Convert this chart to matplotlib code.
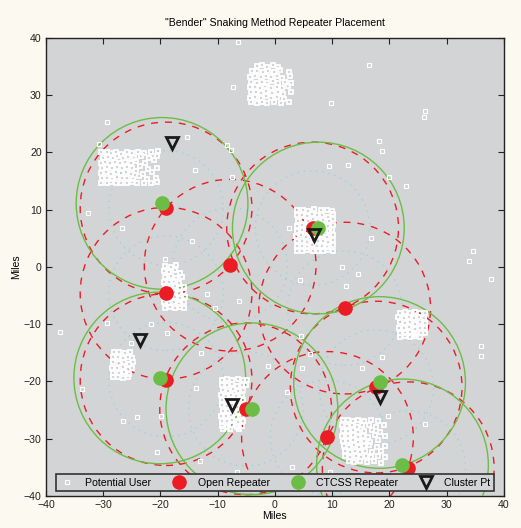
import matplotlib
matplotlib.use("Agg")
import matplotlib.pyplot as plt
from matplotlib.patches import Circle

plt.rcParams['font.family'] = ['Liberation Sans', 'DejaVu Sans']
plt.rcParams['font.size'] = 7.6

# Repeater / cluster positions (miles)
open_x = [-19.0, -7.8, -19.0, 12.2, -19.0, -5.1, 6.6, 9.2, 17.7, 23.3]
open_y = [10.3, 0.3, -4.6, -7.2, -19.7, -24.8, 6.8, -29.8, -21.0, -35.1]
ctcss_x = [-19.7, 7.6, -20.1, -4.0, 18.3, 22.3]
ctcss_y = [11.1, 6.8, -19.4, -24.8, -20.2, -34.6]
cluster_x = [-18.0, 6.8, -23.6, -7.5, 18.3]
cluster_y = [21.6, 5.6, -12.7, -24.1, -22.7]

OPEN_RADIUS = 15.0
CTCSS_RADIUS = 15.0
INNER_RADIUS = 10.0

# Potential users: dense town blocks
town_a = [(-30.3,20.0),(-29.4,20.1),(-28.6,19.9),(-27.7,20.1),(-26.9,19.8),(-25.9,20.0),(-25.0,19.9),(-23.9,20.1),(-22.8,19.9),(-21.6,20.0),(-20.4,20.2),
          (-30.1,19.1),(-29.2,19.2),(-28.3,19.0),(-27.5,19.3),(-26.6,19.1),(-25.6,19.2),(-24.6,19.0),(-23.3,19.3),(-21.9,19.0),(-20.6,19.4),
          (-30.4,18.2),(-29.6,18.3),(-28.8,18.1),(-27.9,18.3),(-27.0,18.2),(-26.1,18.4),(-25.2,18.1),(-24.2,18.5),(-22.6,18.2),(-21.1,18.6),
          (-30.2,17.3),(-29.3,17.4),(-28.5,17.2),(-27.6,17.5),(-26.7,17.3),(-25.8,17.4),(-24.9,17.2),(-23.6,17.6),(-22.1,17.1),(-20.5,17.3),
          (-30.4,16.4),(-29.5,16.5),(-28.7,16.3),(-27.8,16.6),(-26.9,16.4),(-26.0,16.5),(-25.1,16.3),(-24.3,16.7),(-23.0,16.2),(-21.4,16.5),
          (-30.2,15.5),(-29.3,15.6),(-28.4,15.4),(-27.6,15.7),(-26.7,15.5),(-25.8,15.6),(-24.8,15.4),(-23.7,15.8),(-22.4,15.3),(-20.8,15.6),
          (-30.3,14.7),(-29.4,14.6),(-28.6,14.8),(-27.7,14.6),(-26.8,14.7),(-25.9,14.6),(-24.9,14.8),(-24.0,14.6),(-22.9,14.7),(-21.7,14.6),(-20.6,14.8)]
town_b = [(-3.2,35.1),(-2.2,35.2),(-1.3,35.0),(-0.3,35.2),(0.6,34.9),
          (-4.0,34.2),(-3.1,34.3),(-2.1,34.0),(-1.2,34.3),(-0.2,34.1),(0.9,34.4),(2.4,34.0),
          (-4.3,33.2),(-3.4,33.4),(-2.5,33.1),(-1.6,33.3),(-0.6,33.2),(0.4,33.4),(1.3,33.0),(2.6,33.3),
          (-4.1,32.3),(-3.2,32.2),(-2.3,32.4),(-1.4,32.2),(-0.4,32.5),(0.6,32.1),(1.7,32.4),(2.9,32.2),
          (-4.4,31.4),(-3.5,31.5),(-2.6,31.3),(-1.7,31.6),(-0.7,31.3),(0.3,31.5),(1.2,31.2),(2.3,31.6),
          (-4.2,30.5),(-3.3,30.6),(-2.4,30.4),(-1.5,30.7),(-0.5,30.4),(0.5,30.6),(1.5,30.3),(2.8,30.5),
          (-4.3,29.6),(-3.4,29.7),(-2.5,29.5),(-1.6,29.8),(-0.6,29.5),(0.4,29.7),(1.6,29.4),
          (-4.1,28.8),(-3.2,28.7),(-2.3,28.9),(-1.3,28.6),(-0.2,28.8),(1.0,28.7),(2.4,28.8)]
town_c = [(3.9,9.9),(4.9,10.0),(5.8,9.8),(6.9,10.1),(8.0,9.9),(9.1,10.0),(10.0,9.7),
          (3.8,9.0),(4.7,9.1),(5.6,8.9),(6.5,9.2),(7.4,9.0),(8.3,9.1),(9.3,8.8),(10.2,9.2),
          (4.0,8.1),(4.9,8.2),(5.8,8.0),(6.7,8.3),(7.6,8.1),(8.5,8.2),(9.4,8.0),(10.1,8.3),
          (3.8,7.2),(4.7,7.3),(5.6,7.1),(6.5,7.4),(7.4,7.2),(8.4,7.3),(9.3,7.1),(10.2,7.4),
          (3.9,6.3),(4.8,6.4),(5.7,6.2),(6.6,6.5),(7.5,6.3),(8.4,6.4),(9.4,6.2),(10.0,6.5),
          (3.7,5.4),(4.6,5.5),(5.5,5.3),(6.4,5.6),(7.3,5.4),(8.2,5.5),(9.1,5.3),(10.1,5.6),
          (3.9,4.5),(4.8,4.6),(5.7,4.4),(6.6,4.7),(7.5,4.5),(8.4,4.6),(9.3,4.4),(10.2,4.7),
          (3.8,3.6),(4.7,3.7),(5.6,3.5),(6.5,3.8),(7.4,3.6),(8.3,3.7),(9.2,3.5),(10.1,3.8),
          (3.9,2.8),(4.8,2.7),(5.7,2.9),(6.6,2.7),(7.5,2.8),(8.4,2.7),(9.3,2.9),(10.2,2.7)]
town_d = [(-19.2,0.2),(-18.2,0.0),(-17.3,0.3),
          (-19.4,-0.7),(-18.5,-0.9),(-17.5,-0.6),(-16.6,-1.0),
          (-19.1,-1.7),(-18.1,-1.6),(-17.2,-1.9),(-16.2,-1.7),
          (-19.4,-2.6),(-18.5,-2.7),(-17.6,-2.5),(-16.7,-2.8),
          (-19.2,-3.5),(-18.3,-3.6),(-17.4,-3.4),(-16.5,-3.7),(-15.8,-3.5),
          (-19.5,-4.4),(-18.6,-4.5),(-17.7,-4.3),(-16.8,-4.6),(-15.9,-4.4),
          (-19.3,-5.3),(-18.4,-5.4),(-17.5,-5.2),(-16.6,-5.5),(-15.7,-5.3),
          (-19.4,-6.2),(-18.5,-6.3),(-17.6,-6.1),(-16.7,-6.4),(-15.8,-6.2),
          (-19.2,-7.1),(-18.3,-7.0),(-17.4,-7.2),(-16.5,-7.0),(-15.8,-7.1)]
town_e = [(21.8,-8.0),(22.7,-7.9),(23.6,-8.1),(24.5,-7.9),(25.4,-8.1),(26.2,-8.0),
          (21.6,-8.8),(22.5,-8.9),(23.4,-8.7),(24.3,-9.0),(25.2,-8.8),(26.1,-8.9),
          (21.8,-9.7),(22.7,-9.8),(23.6,-9.6),(24.5,-9.9),(25.4,-9.7),(26.3,-9.8),
          (21.7,-10.6),(22.6,-10.7),(23.5,-10.5),(24.4,-10.8),(25.3,-10.6),(26.2,-10.7),
          (21.9,-11.5),(22.8,-11.6),(23.7,-11.4),(24.6,-11.7),(25.5,-11.5),(26.3,-11.6),
          (21.8,-12.2),(22.7,-12.1),(23.6,-12.2),(24.5,-12.1),(25.4,-12.2)]
town_f = [(-28.1,-14.9),(-27.2,-14.8),(-26.2,-15.0),(-25.3,-14.9),
          (-28.3,-15.8),(-27.4,-15.7),(-26.5,-15.9),(-25.6,-15.7),(-24.9,-15.9),
          (-28.2,-16.7),(-27.3,-16.8),(-26.4,-16.6),(-25.5,-16.9),(-24.8,-16.7),
          (-28.4,-17.6),(-27.5,-17.7),(-26.6,-17.5),(-25.7,-17.8),(-24.9,-17.6),
          (-28.2,-18.5),(-27.3,-18.6),(-26.4,-18.4),(-25.5,-18.7),
          (-28.3,-19.3),(-27.4,-19.2),(-26.5,-19.4),(-25.6,-19.3)]
town_g = [(-9.2,-19.7),(-8.3,-19.6),(-7.4,-19.8),(-6.5,-19.6),(-5.6,-19.8),(-4.9,-19.7),
          (-9.3,-20.6),(-8.4,-20.7),(-7.5,-20.5),(-6.6,-20.8),(-5.7,-20.6),(-5.0,-20.7),
          (-9.1,-21.5),(-8.2,-21.6),(-7.3,-21.4),(-6.4,-21.7),(-5.5,-21.5),
          (-9.4,-22.4),(-8.5,-22.5),(-7.6,-22.3),(-6.7,-22.6),(-5.8,-22.4),
          (-9.2,-23.3),(-8.3,-23.4),(-7.4,-23.2),(-6.5,-23.5),(-5.6,-23.3),
          (-9.3,-24.2),(-8.4,-24.3),(-7.5,-24.1),(-6.6,-24.4),(-5.7,-24.2),
          (-9.1,-25.1),(-8.2,-25.2),(-7.3,-25.0),(-6.4,-25.3),(-5.5,-25.1),
          (-9.4,-26.0),(-8.5,-26.1),(-7.6,-25.9),(-6.7,-26.2),(-5.8,-26.0),
          (-9.2,-26.9),(-8.3,-27.0),(-7.4,-26.8),(-6.5,-27.1),(-5.6,-26.9),
          (-9.3,-27.8),(-8.4,-27.9),(-7.5,-27.7),(-6.6,-28.0),(-5.7,-27.8),
          (-9.0,-28.3),(-7.8,-28.4),(-6.2,-28.3)]
town_h = [(11.9,-26.8),(12.8,-26.7),(13.7,-26.9),(14.6,-26.7),(15.6,-26.9),(16.8,-26.8),(18.0,-27.0),
          (11.7,-27.7),(12.6,-27.8),(13.5,-27.6),(14.4,-27.9),(15.3,-27.7),(16.4,-27.6),(17.7,-27.9),(19.1,-27.7),
          (11.9,-28.6),(12.8,-28.7),(13.7,-28.5),(14.6,-28.8),(15.5,-28.6),(16.9,-28.5),(18.4,-28.8),
          (11.8,-29.5),(12.7,-29.6),(13.6,-29.4),(14.5,-29.7),(15.4,-29.5),(16.2,-29.8),(17.5,-29.4),(19.2,-29.6),
          (11.9,-30.4),(12.8,-30.5),(13.7,-30.3),(14.6,-30.6),(15.5,-30.4),(16.7,-30.6),(18.1,-30.3),
          (12.0,-31.3),(12.9,-31.4),(13.8,-31.2),(14.7,-31.5),(15.6,-31.3),(16.5,-31.2),(17.8,-31.5),(19.3,-31.3),
          (12.2,-32.2),(13.1,-32.3),(14.0,-32.1),(14.9,-32.4),(15.8,-32.2),(17.0,-32.3),(18.5,-32.1),
          (12.3,-33.1),(13.2,-33.2),(14.1,-33.0),(15.0,-33.3),(15.9,-33.1),(16.8,-33.3),(18.0,-33.1),(19.3,-33.2),
          (12.9,-34.0),(13.8,-34.1),(14.9,-33.9),(16.1,-34.1),(17.4,-34.0),(18.6,-34.2)]

# Potential users: scattered rural points
rural = [(-6.5,39.3),(-29.3,25.3),(-7.3,31.4),(-30.7,21.5),(-15.4,22.7),(-8.4,21.3),(-7.7,20.4),(-14.0,16.9),(-7.5,15.7),
         (16.4,35.2),(9.8,28.6),(26.2,27.2),(26.0,26.2),(18.2,22.0),(18.7,20.2),(9.4,17.6),(12.7,17.8),(19.9,15.7),(23.0,14.1),
         (-32.6,9.4),(-26.7,6.8),(-14.5,4.5),(-19.2,1.4),(-11.9,-4.7),(-6.3,-5.9),(-10.5,-7.2),(-29.3,-9.8),(-21.6,-10.0),
         (-37.5,-11.3),(-18.8,-11.6),(2.5,6.8),(16.8,5.0),(11.7,0.0),(14.5,-1.2),(4.4,-2.3),(12.4,-3.3),(4.5,-12.0),
         (6.1,-15.2),(4.7,-17.6),(-1.2,-17.4),(15.2,-17.6),(18.7,-15.7),(-12.9,-15.0),(34.7,2.8),(33.9,1.0),(37.7,-2.1),
         (36.0,-13.8),(36.1,-15.5),(2.1,-21.8),(19.7,-26.0),(26.2,-27.4),(3.0,-34.9),(-25.1,-13.3),(-13.8,-21.1),
         (-33.6,-21.3),(-24.1,-26.2),(-19.9,-26.0),(-26.5,-27.0),(-20.6,-32.3),(-13.1,-34.0),(-6.6,-35.8),(9.6,-35.8)]

towns = town_a + town_b + town_c + town_d + town_e + town_f + town_g + town_h
town_x = [p[0] for p in towns]
town_y = [p[1] for p in towns]
rural_x = [p[0] for p in rural]
rural_y = [p[1] for p in rural]

RED = '#ec1c24'
GREEN = '#6cbd45'
CYAN = '#93d2de'
AX_BG = '#d3d4d6'

fig = plt.figure(figsize=(5.21, 5.28), dpi=100, facecolor='#fcfaf0')
ax = fig.add_axes([0.088, 0.061, 0.879, 0.867])
ax.set_facecolor(AX_BG)

# coverage rings
for x, y in zip(open_x, open_y):
    ax.add_patch(Circle((x, y), INNER_RADIUS, fill=False, ec=CYAN, lw=0.9,
                        linestyle=(0, (1, 4)), zorder=1))
for x, y in zip(open_x, open_y):
    ax.add_patch(Circle((x, y), OPEN_RADIUS, fill=False, ec=RED, lw=1.0,
                        linestyle=(0, (5, 5)), zorder=2))
for x, y in zip(ctcss_x, ctcss_y):
    ax.add_patch(Circle((x, y), CTCSS_RADIUS, fill=False, ec=GREEN, lw=1.0, zorder=3))

# towns drawn with heavier edge so the dense blocks read as solid white
ax.plot(town_x, town_y, 's', ms=3.3, mfc='none', mec='white', mew=1.3, zorder=4)
ax.plot(rural_x, rural_y, 's', ms=3.0, mfc='none', mec='white', mew=0.8, zorder=4,
        label='Potential User')
ax.plot(open_x, open_y, 'o', ms=9.5, color=RED, mec=RED, zorder=5, label='Open Repeater')
ax.plot(ctcss_x, ctcss_y, 'o', ms=9.5, color=GREEN, mec=GREEN, zorder=6, label='CTCSS Repeater')
ax.plot(cluster_x, cluster_y, 'v', ms=9, mfc='none', mec='#1a1a1a', mew=2.0, zorder=7,
        label='Cluster Pt')

ax.set_xlim(-40, 40)
ax.set_ylim(-40, 40)
ax.set_xticks(range(-40, 41, 10))
ax.set_yticks(range(-40, 41, 10))
ax.tick_params(direction='in', length=4, width=0.8, top=True, right=True, labelsize=7.6,
               colors='#222222', pad=3)
for s in ax.spines.values():
    s.set_linewidth(1.0)
    s.set_color('#222222')

ax.set_title('"Bender" Snaking Method Repeater Placement', fontsize=7.6, pad=9)
ax.set_xlabel('Miles', labelpad=1)
ax.set_ylabel('Miles', labelpad=2)

leg = ax.legend(loc='lower left', bbox_to_anchor=(0.022, 0.011, 0.956, 0.043), mode='expand',
                ncol=4, fontsize=7.6, frameon=True, fancybox=False, framealpha=1,
                facecolor=AX_BG, edgecolor='#333333', handlelength=1.5, handletextpad=1.0,
                borderpad=0.3, borderaxespad=0)
leg.get_frame().set_linewidth(1.2)
leg.set_zorder(10)

fig.savefig('out.png', dpi=100, facecolor=fig.get_facecolor())
